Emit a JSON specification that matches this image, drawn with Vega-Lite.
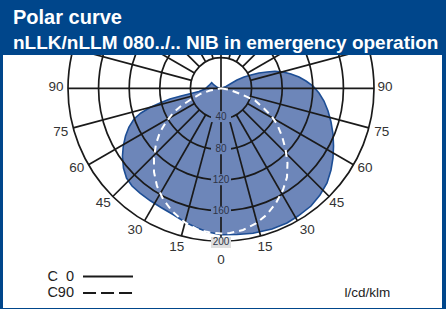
{
  "$schema": "https://vega.github.io/schema/vega-lite/v6.json",
  "width": 439,
  "height": 253,
  "autosize": {"type": "none"},
  "padding": {"left": 3, "top": 55, "right": 4, "bottom": 1},
  "background": "#00468b",
  "title": {
    "text": "Polar curve",
    "subtitle": "nLLK/nLLM 080../.. NIB in emergency operation",
    "anchor": "start",
    "frame": "group",
    "dx": 10,
    "offset": 2,
    "font": "Liberation Sans",
    "fontSize": 20,
    "fontWeight": "bold",
    "color": "#ffffff",
    "subtitleFont": "Liberation Sans",
    "subtitleFontSize": 19,
    "subtitleFontWeight": "bold",
    "subtitleColor": "#ffffff",
    "subtitlePadding": 6
  },
  "config": {
    "view": {"stroke": null, "fill": "#ffffff"},
    "legend": {
      "orient": "none",
      "legendX": 97.5,
      "legendY": 214,
      "title": null,
      "labelFont": "Liberation Sans",
      "labelFontSize": 14.5,
      "labelColor": "#222222",
      "labelAlign": "right",
      "labelOffset": -41.5,
      "rowPadding": 1.5,
      "symbolType": "M-4,0H4",
      "symbolSize": 156,
      "symbolStrokeColor": "#1a1a1a",
      "symbolStrokeWidth": 2
    }
  },
  "datasets": {
    "c0": [
      {"i": 1, "x": 0, "y": 0},
      {"i": 2, "x": 6.5, "y": 2.4},
      {"i": 3, "x": 13.1, "y": 6.3},
      {"i": 4, "x": 20.9, "y": 10.8},
      {"i": 5, "x": 30.1, "y": 14.8},
      {"i": 6, "x": 39.2, "y": 17.4},
      {"i": 7, "x": 49.7, "y": 20.0},
      {"i": 8, "x": 60.1, "y": 21.3},
      {"i": 9, "x": 70.6, "y": 22.2},
      {"i": 10, "x": 81.0, "y": 21.3},
      {"i": 11, "x": 91.5, "y": 18.7},
      {"i": 12, "x": 102.0, "y": 14.8},
      {"i": 13, "x": 111.1, "y": 9.5},
      {"i": 14, "x": 120.3, "y": 3.0},
      {"i": 15, "x": 128.1, "y": -6.1},
      {"i": 16, "x": 134.6, "y": -16.6},
      {"i": 17, "x": 139.9, "y": -29.7},
      {"i": 18, "x": 143.8, "y": -44.1},
      {"i": 19, "x": 146.4, "y": -59.7},
      {"i": 20, "x": 147.1, "y": -75.4},
      {"i": 21, "x": 146.4, "y": -91.1},
      {"i": 22, "x": 143.8, "y": -106.8},
      {"i": 23, "x": 138.6, "y": -123.8},
      {"i": 24, "x": 129.4, "y": -139.5},
      {"i": 25, "x": 117.6, "y": -153.9},
      {"i": 26, "x": 100.7, "y": -167.0},
      {"i": 27, "x": 86.3, "y": -176.1},
      {"i": 28, "x": 66.7, "y": -184.0},
      {"i": 29, "x": 41.8, "y": -189.5},
      {"i": 30, "x": 20.9, "y": -191.1},
      {"i": 31, "x": 0, "y": -191.4},
      {"i": 32, "x": -17.0, "y": -187.8},
      {"i": 33, "x": -32.7, "y": -182.0},
      {"i": 34, "x": -47.1, "y": -174.8},
      {"i": 35, "x": -62.7, "y": -165.0},
      {"i": 36, "x": -78.4, "y": -155.8},
      {"i": 37, "x": -92.8, "y": -146.7},
      {"i": 38, "x": -105.9, "y": -136.9},
      {"i": 39, "x": -116.3, "y": -127.7},
      {"i": 40, "x": -123.5, "y": -117.3},
      {"i": 41, "x": -127.5, "y": -104.2},
      {"i": 42, "x": -128.8, "y": -88.5},
      {"i": 43, "x": -127.7, "y": -75.4},
      {"i": 44, "x": -124.8, "y": -62.4},
      {"i": 45, "x": -120.3, "y": -50.6},
      {"i": 46, "x": -113.7, "y": -40.1},
      {"i": 47, "x": -104.6, "y": -32.3},
      {"i": 48, "x": -92.8, "y": -25.1},
      {"i": 49, "x": -79.7, "y": -19.2},
      {"i": 50, "x": -66.7, "y": -14.0},
      {"i": 51, "x": -52.3, "y": -10.1},
      {"i": 52, "x": -39.2, "y": -6.8},
      {"i": 53, "x": -28.8, "y": -4.2},
      {"i": 54, "x": -20.9, "y": -0.9},
      {"i": 55, "x": -15.7, "y": 3.7},
      {"i": 56, "x": -12.2, "y": 7.3},
      {"i": 57, "x": -9.2, "y": 4.3},
      {"i": 58, "x": -4.6, "y": 1.0},
      {"i": 59, "x": 0, "y": 0}
    ],
    "c90": [
      {"i": 1, "x": 0, "y": 0, "curve": "C90"},
      {"i": 2, "x": 11.8, "y": -2.2, "curve": "C90"},
      {"i": 3, "x": 28.8, "y": -8.8, "curve": "C90"},
      {"i": 4, "x": 44.4, "y": -15.9, "curve": "C90"},
      {"i": 5, "x": 56.2, "y": -26.4, "curve": "C90"},
      {"i": 6, "x": 65.4, "y": -35.6, "curve": "C90"},
      {"i": 7, "x": 73.2, "y": -46.7, "curve": "C90"},
      {"i": 8, "x": 79.7, "y": -62.4, "curve": "C90"},
      {"i": 9, "x": 84.3, "y": -79.3, "curve": "C90"},
      {"i": 10, "x": 86.9, "y": -97.6, "curve": "C90"},
      {"i": 11, "x": 86.3, "y": -116.0, "curve": "C90"},
      {"i": 12, "x": 81.0, "y": -133.0, "curve": "C90"},
      {"i": 13, "x": 71.9, "y": -149.9, "curve": "C90"},
      {"i": 14, "x": 60.1, "y": -165.0, "curve": "C90"},
      {"i": 15, "x": 45.8, "y": -176.7, "curve": "C90"},
      {"i": 16, "x": 28.8, "y": -185.2, "curve": "C90"},
      {"i": 17, "x": 11.8, "y": -189.2, "curve": "C90"},
      {"i": 18, "x": 0, "y": -189.8, "curve": "C90"},
      {"i": 19, "x": -14.4, "y": -188.5, "curve": "C90"},
      {"i": 20, "x": -30.1, "y": -184.6, "curve": "C90"},
      {"i": 21, "x": -47.1, "y": -175.4, "curve": "C90"},
      {"i": 22, "x": -64.1, "y": -160.4, "curve": "C90"},
      {"i": 23, "x": -75.8, "y": -144.7, "curve": "C90"},
      {"i": 24, "x": -83.7, "y": -127.7, "curve": "C90"},
      {"i": 25, "x": -87.6, "y": -109.4, "curve": "C90"},
      {"i": 26, "x": -87.6, "y": -91.1, "curve": "C90"},
      {"i": 27, "x": -85.0, "y": -72.8, "curve": "C90"},
      {"i": 28, "x": -79.7, "y": -57.1, "curve": "C90"},
      {"i": 29, "x": -71.9, "y": -44.1, "curve": "C90"},
      {"i": 30, "x": -62.7, "y": -32.3, "curve": "C90"},
      {"i": 31, "x": -52.3, "y": -23.1, "curve": "C90"},
      {"i": 32, "x": -40.5, "y": -15.3, "curve": "C90"},
      {"i": 33, "x": -27.5, "y": -7.5, "curve": "C90"},
      {"i": 34, "x": -14.4, "y": -2.9, "curve": "C90"},
      {"i": 35, "x": 0, "y": 0, "curve": "C90"}
    ],
    "rings": [{"r": 40}, {"r": 80}, {"r": 120}, {"r": 160}, {"r": 200}],
    "spokes": [
      {"x": -200, "y": 0, "x2": 200, "y2": 0},
      {"x": 0, "y": -200, "x2": 0, "y2": 200},
      {"x": 10.35, "y": -38.64, "x2": 51.76, "y2": -193.19},
      {"x": 20, "y": -34.64, "x2": 100, "y2": -173.21},
      {"x": 28.28, "y": -28.28, "x2": 141.42, "y2": -141.42},
      {"x": 34.64, "y": -20, "x2": 173.21, "y2": -100},
      {"x": 38.64, "y": -10.35, "x2": 193.19, "y2": -51.76},
      {"x": -10.35, "y": -38.64, "x2": -51.76, "y2": -193.19},
      {"x": -20, "y": -34.64, "x2": -100, "y2": -173.21},
      {"x": -28.28, "y": -28.28, "x2": -141.42, "y2": -141.42},
      {"x": -34.64, "y": -20, "x2": -173.21, "y2": -100},
      {"x": -38.64, "y": -10.35, "x2": -193.19, "y2": -51.76},
      {"x": 10.35, "y": 38.64, "x2": 51.76, "y2": 193.19},
      {"x": 20, "y": 34.64, "x2": 100, "y2": 173.21},
      {"x": 28.28, "y": 28.28, "x2": 141.42, "y2": 141.42},
      {"x": 34.64, "y": 20, "x2": 173.21, "y2": 100},
      {"x": 38.64, "y": 10.35, "x2": 193.19, "y2": 51.76},
      {"x": -10.35, "y": 38.64, "x2": -51.76, "y2": 193.19},
      {"x": -20, "y": 34.64, "x2": -100, "y2": 173.21},
      {"x": -28.28, "y": 28.28, "x2": -141.42, "y2": 141.42},
      {"x": -34.64, "y": 20, "x2": -173.21, "y2": 100},
      {"x": -38.64, "y": 10.35, "x2": -193.19, "y2": 51.76}
    ],
    "angleLabels": [
      {"label": "90", "x": -215.7, "y": 1.3},
      {"label": "75", "x": -209.5, "y": -56.7},
      {"label": "60", "x": -188.6, "y": -104.6},
      {"label": "45", "x": -153.9, "y": -150.3},
      {"label": "30", "x": -112.4, "y": -185.2},
      {"label": "15", "x": -57.9, "y": -207.1},
      {"label": "0", "x": 0, "y": -224.4},
      {"label": "15", "x": 57.5, "y": -207.1},
      {"label": "30", "x": 112.8, "y": -185.2},
      {"label": "45", "x": 151.2, "y": -150.3},
      {"label": "60", "x": 188.2, "y": -104.6},
      {"label": "75", "x": 210.1, "y": -56.7},
      {"label": "90", "x": 214.4, "y": 1.3}
    ],
    "radialLabels": [
      {"v": 40, "x": 0, "y": -37},
      {"v": 80, "x": 0, "y": -79},
      {"v": 120, "x": 0, "y": -119.5},
      {"v": 160, "x": 0, "y": -161},
      {"v": 200, "x": 0, "y": -201.5}
    ]
  },
  "layer": [
    {
      "data": {"name": "c0"},
      "mark": {"type": "line", "fill": "#6d86b9", "stroke": "#1d4e95", "strokeWidth": 1.6, "interpolate": "linear", "clip": true},
      "encoding": {
        "x": {"field": "x", "type": "quantitative", "scale": {"domain": [-284.97, 288.89], "nice": false, "zero": false}, "axis": {"domain": false, "ticks": false, "labels": false, "grid": false, "title": "l/cd/klm", "titleX": 341, "titleY": -11.3, "titleAlign": "left", "titleBaseline": "alphabetic", "titleFont": "Liberation Sans", "titleFontSize": 13.5, "titleFontWeight": "normal", "titleColor": "#222222"}},
        "y": {"field": "y", "type": "quantitative", "scale": {"domain": [-287.2, 43.53], "nice": false, "zero": false}, "axis": null},
        "order": {"field": "i", "type": "quantitative"}
      }
    },
    {
      "data": {"name": "rings"},
      "mark": {"type": "arc", "theta": 0, "theta2": 6.2832, "filled": false, "stroke": "#1a1a1a", "strokeWidth": 1.7, "clip": true},
      "encoding": {
        "x": {"datum": 0, "type": "quantitative"},
        "y": {"datum": 0, "type": "quantitative"},
        "radius": {"field": "r", "type": "quantitative", "stack": false, "scale": {"type": "linear", "domain": [0, 200], "range": [0, 153]}, "legend": null}
      }
    },
    {
      "data": {"name": "spokes"},
      "mark": {"type": "rule", "stroke": "#1a1a1a", "strokeWidth": 1.7, "clip": true},
      "encoding": {
        "x": {"field": "x", "type": "quantitative"},
        "y": {"field": "y", "type": "quantitative"},
        "x2": {"field": "x2"},
        "y2": {"field": "y2"}
      }
    },
    {
      "data": {"name": "c90"},
      "mark": {"type": "line", "stroke": "#ffffff", "strokeWidth": 2, "strokeDash": [7, 5], "interpolate": "linear", "clip": true},
      "encoding": {
        "x": {"field": "x", "type": "quantitative"},
        "y": {"field": "y", "type": "quantitative"},
        "order": {"field": "i", "type": "quantitative"}
      }
    },
    {
      "data": {"name": "c90"},
      "mark": {"type": "line", "strokeOpacity": 0, "strokeWidth": 2, "clip": true},
      "encoding": {
        "x": {"field": "x", "type": "quantitative"},
        "y": {"field": "y", "type": "quantitative"},
        "order": {"field": "i", "type": "quantitative"},
        "strokeDash": {
          "field": "curve",
          "type": "nominal",
          "scale": {"domain": ["C\u00a0\u00a00", "C90"], "range": [[1, 0], [13, 5]]},
          "legend": {"encode": {"symbols": {"update": {"stroke": {"value": "#1a1a1a"}, "strokeWidth": {"value": 2}, "strokeOpacity": {"value": 1}, "opacity": {"value": 1}}}}}
        }
      }
    },
    {
      "data": {"name": "radialLabels"},
      "mark": {"type": "point", "shape": "M-1,-0.55H1V0.55H-1Z", "size": 400, "filled": true, "opacity": 1, "strokeWidth": 0},
      "encoding": {
        "x": {"field": "x", "type": "quantitative"},
        "y": {"field": "y", "type": "quantitative"},
        "fill": {"condition": {"test": "datum.v == 200", "value": "#dedede"}, "value": "#6d86b9"}
      }
    },
    {
      "data": {"name": "radialLabels"},
      "mark": {"type": "text", "font": "Liberation Sans", "fontSize": 10, "color": "#2d3447", "align": "center", "baseline": "middle"},
      "encoding": {
        "x": {"field": "x", "type": "quantitative"},
        "y": {"field": "y", "type": "quantitative"},
        "text": {"field": "v", "type": "quantitative"}
      }
    },
    {
      "data": {"name": "angleLabels"},
      "mark": {"type": "text", "font": "Liberation Sans", "fontSize": 13.5, "color": "#333333", "align": "center", "baseline": "middle"},
      "encoding": {
        "x": {"field": "x", "type": "quantitative"},
        "y": {"field": "y", "type": "quantitative"},
        "text": {"field": "label", "type": "nominal"}
      }
    }
  ]
}
